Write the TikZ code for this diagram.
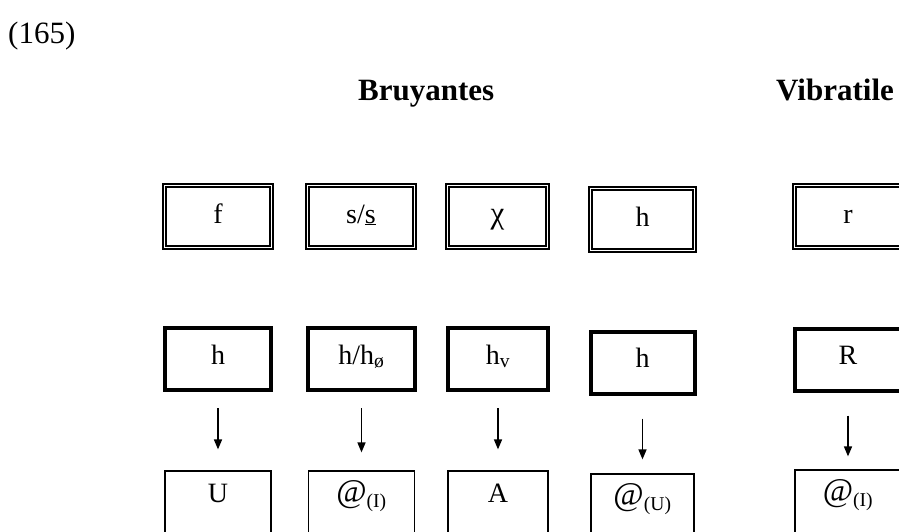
\documentclass[tikz,border=0pt]{standalone}
\usepackage{fontspec}
\setmainfont{Liberation Serif}
\usetikzlibrary{arrows.meta}
\newcommand{\bigat}{{\fontsize{33}{33}\selectfont @}}
\begin{document}
\begin{tikzpicture}[x=1pt,y=-1pt,
  lbl/.style={font=\fontsize{28}{30}\selectfont, inner sep=0pt},
  topbox/.style={lbl, draw, line width=1.7pt, double=white, double distance=1.8pt,
    minimum width=#1, minimum height=62pt, text height=19pt, text depth=6pt},
  midbox/.style={lbl, draw, line width=4pt,
    minimum width=#1, minimum height=62pt, text height=19pt, text depth=9pt},
  botbox/.style={lbl, draw, line width=1.2pt,
    minimum width=#1, minimum height=67pt, text height=19pt, text depth=23pt},
  arr/.style={line width=1.5pt, -{Triangle[length=10pt,width=8pt]}},
  ttl/.style={anchor=base west, inner sep=0pt, font=\bfseries\fontsize{31}{36}\selectfont}
]
\useasboundingbox (0,0) rectangle (899,531);

\node[anchor=base west, inner sep=0pt, font=\fontsize{31}{34}\selectfont] (num) at (8,43) {(165)};
\node[ttl] (bru) at (358,100) {Bruyantes};
\node[ttl] (vib) at (776,100) {Vibratile};

% top row
\node[topbox=107pt] (t1) at (218,216.5) {f};
\node[topbox=107pt] (t2) at (361,216.5) {s/\underline{s}};
\node[topbox=100pt] (t3) at (497.5,216.5) {{\fontsize{31}{31}\selectfont χ}};
\node[topbox=104pt] (t4) at (642.5,219.5) {h};
\node[topbox=107pt] (t5) at (848,216.5) {r};

% middle row
\node[midbox=106pt] (m1) at (218,359) {h};
\node[midbox=107pt] (m2) at (361.5,359) {h/h\textsubscript{ø}};
\node[midbox=100pt] (m3) at (498,359) {h\textsubscript{v}};
\node[midbox=104pt] (m4) at (642.5,362.5) {h};
\node[midbox=107pt] (m5) at (848,359.5) {R};

% bottom row
\node[botbox=106pt] (b1) at (218,504.5) {U};
\node[botbox=106pt] (b2) at (361.5,504.5) {\bigat\textsubscript{(I)}};
\node[botbox=100pt] (b3) at (498,504.5) {A};
\node[botbox=103pt] (b4) at (642.5,507.5) {\bigat\textsubscript{(U)}};
\node[botbox=106pt] (b5) at (848,503.5) {\bigat\textsubscript{(I)}};

% arrows
\draw[arr, shorten <=16pt, shorten >=21pt] (m1.south) -- (b1.north);
\draw[arr, shorten <=16pt, shorten >=18pt] (m2.south) -- (b2.north);
\draw[arr, shorten <=16pt, shorten >=21pt] (m3.south) -- (b3.north);
\draw[arr, shorten <=23pt, shorten >=14pt] (m4.south) -- (b4.north);
\draw[arr, shorten <=23pt, shorten >=13pt] (m5.south) -- (b5.north);
\end{tikzpicture}
\end{document}
